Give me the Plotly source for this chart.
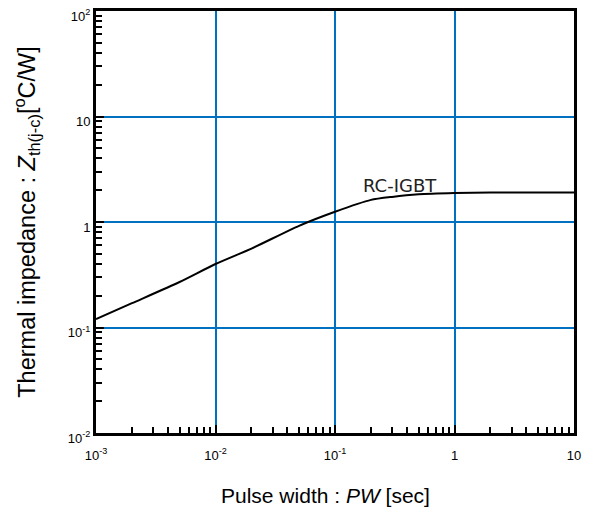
import numpy as np
import plotly.graph_objects as go

pulse_width = [0.001, 0.002, 0.005, 0.01, 0.02, 0.05, 0.1, 0.2, 0.3, 0.5, 1, 2, 5, 10]
zth = [0.12, 0.17, 0.27, 0.40, 0.56, 0.92, 1.25, 1.62, 1.73, 1.83, 1.88, 1.90, 1.90, 1.90]

x_tickvals = [0.001, 0.01, 0.1, 1, 10]
x_ticktext = ["10<sup>-3</sup>", "10<sup>-2</sup>", "10<sup>-1</sup>", "1", "10"]
y_tickvals = [0.01, 0.1, 1, 10, 100]
y_ticktext = ["10<sup>-2</sup>", "10<sup>-1</sup>", "1", "10", "10<sup>2</sup>"]
minor_mult = [2, 3, 4, 5, 6, 7, 8, 9]
x_minor = [d * m for d in x_tickvals[:-1] for m in minor_mult]
y_minor = [d * m for d in y_tickvals[:-1] for m in minor_mult]

series_label = "RC-IGBT"

fig = go.Figure()
fig.add_trace(go.Scatter(x=pulse_width, y=zth, mode="lines",
                         line=dict(color="black", width=2, shape="spline", smoothing=0.6),
                         showlegend=False, hoverinfo="skip"))

grid_blue = "#0070C0"
fig.update_xaxes(type="log", range=[-3, 1], tickvals=x_tickvals, ticktext=x_ticktext,
                 showgrid=True, gridcolor=grid_blue, gridwidth=2,
                 showline=True, linecolor="black", linewidth=3, mirror=True,
                 ticks="inside", ticklen=8, tickwidth=2, tickcolor="black",
                 ticklabelstandoff=8, automargin=False, ticklabeloverflow="allow",
                 tickfont=dict(family="Liberation Sans", size=13, color="black"),
                 minor=dict(tickvals=x_minor, ticks="inside", ticklen=6, tickwidth=1.5,
                            tickcolor="black", showgrid=False),
                 zeroline=False)
fig.update_yaxes(type="log", range=[-2, 2], tickvals=y_tickvals, ticktext=y_ticktext,
                 showgrid=True, gridcolor=grid_blue, gridwidth=2,
                 showline=True, linecolor="black", linewidth=3, mirror=True,
                 ticks="inside", ticklen=8, tickwidth=2, tickcolor="black",
                 automargin=False, ticklabeloverflow="allow", ticklabelshift=5,
                 tickfont=dict(family="Liberation Sans", size=13, color="black"),
                 minor=dict(tickvals=y_minor, ticks="inside", ticklen=6, tickwidth=1.5,
                            tickcolor="black", showgrid=False),
                 zeroline=False)

fig.add_annotation(x=np.log10(0.35), y=np.log10(2.24), xref="x", yref="y",
                   text=series_label, showarrow=False, xanchor="center", yanchor="middle",
                   font=dict(family="DejaVu Sans", size=18, color="#222222"))
fig.add_annotation(x=-0.147, y=0.500, xref="paper", yref="paper", textangle=-90,
                   xanchor="center", yanchor="middle",
                   text="Thermal impedance : <i>Z</i><sub>th(j-c)</sub>[<sup>o</sup>C/W]",
                   showarrow=False, font=dict(family="Liberation Sans", size=23.5, color="black"))
fig.add_annotation(x=0.481, y=-0.149, xref="paper", yref="paper",
                   xanchor="center", yanchor="middle",
                   text="Pulse width : <i>PW</i> [sec]",
                   showarrow=False, font=dict(family="Liberation Sans", size=21, color="black"))

# page body adds an 8px offset, so margins compensate
fig.update_layout(width=598, height=515, margin=dict(l=88, r=32, t=3, b=90),
                  plot_bgcolor="white", paper_bgcolor="white")
fig.write_html("out.html")
